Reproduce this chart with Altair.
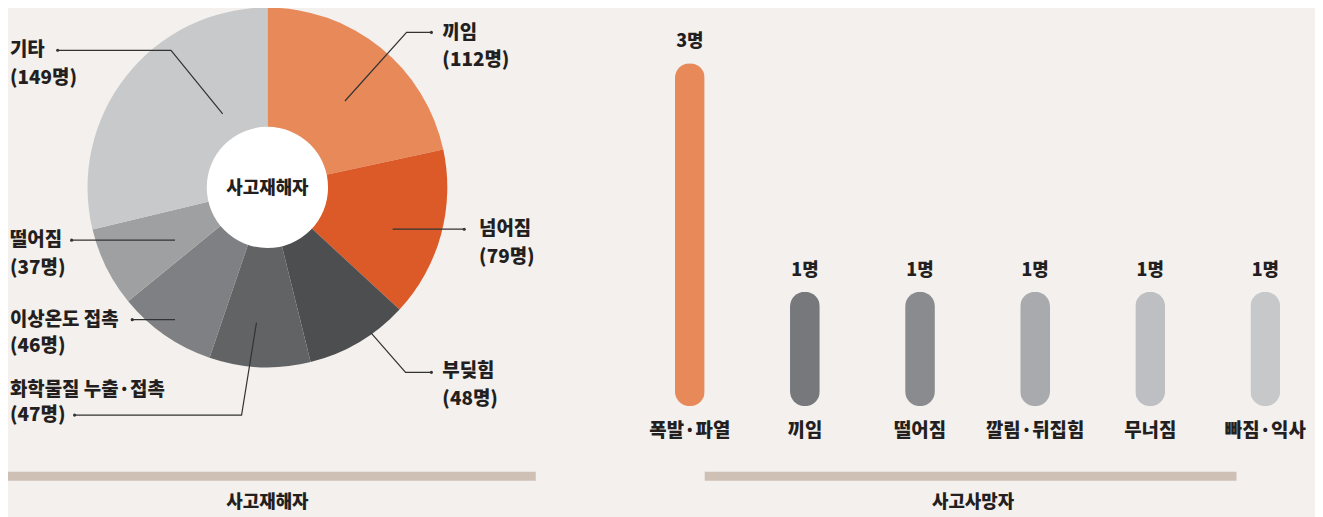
import altair as alt
import pandas as pd

# ---------------- data ----------------
pie_cats = ["끼임", "넘어짐", "부딪힘", "화학물질 누출·접촉", "이상온도 접촉", "떨어짐", "기타"]
pie_values = [112, 79, 48, 47, 46, 37, 149]
pie_colors = ["#E8895A", "#DC5A28", "#4D4E50", "#626365", "#7F8083", "#9FA0A2", "#C8C9CA"]

bar_cats = ["폭발·파열", "끼임", "떨어짐", "깔림·뒤집힘", "무너짐", "빠짐·익사"]
bar_values = [3, 1, 1, 1, 1, 1]
bar_colors = ["#E8895A", "#77787C", "#8A8B8F", "#A9AAAD", "#BEBFC2", "#C7C8CA"]

left_title = "사고재해자"
right_title = "사고사망자"
center_text = "사고재해자"

# ---------------- layout (annotation positions, px) ----------------
FONT = "Noto Sans CJK KR"
WEIGHT = 900
INK = "#231F20"
BG = "#F3F0ED"
BEIGE = "#CFC0B6"
CX, CY, R_OUT, R_IN = 261, 179, 181, 61

label_pos = {
    "끼임": (437, 24, 51),
    "넘어짐": (474, 221, 249),
    "부딪힘": (437, 364, 392),
    "화학물질 누출·접촉": (2, 383, 408),
    "이상온도 접촉": (2, 312, 339),
    "떨어짐": (2, 232, 260),
    "기타": (2, 41, 69),
}
leader_pts = {
    "끼임": [(426, 23), (401, 23), (339, 92)],
    "넘어짐": [(459, 221), (387, 221)],
    "부딪힘": [(426, 365), (400, 365), (365, 325)],
    "화학물질 누출·접촉": [(67, 408), (235, 408), (250, 315)],
    "이상온도 접촉": [(125, 312), (168, 312)],
    "떨어짐": [(64, 232), (168, 232)],
    "기타": [(50, 41), (164, 41), (216, 105)],
}

# ---------------- tables ----------------
pie_df = pd.DataFrame({"cat": pie_cats, "v": pie_values, "idx": list(range(len(pie_cats)))})

lab_rows = []
for c, v in zip(pie_cats, pie_values):
    x, y1, y2 = label_pos[c]
    lab_rows.append({"x": x, "y": y1, "t": c})
    lab_rows.append({"x": x, "y": y2, "t": f"({v}명)"})
lab_df = pd.DataFrame(lab_rows)

line_rows, dot_rows = [], []
for c in pie_cats:
    pts = leader_pts[c]
    for i, (x, y) in enumerate(pts):
        line_rows.append({"g": c, "o": i, "x": x, "y": y})
    dot_rows.append({"x": pts[0][0], "y": pts[0][1]})
line_df = pd.DataFrame(line_rows)
dot_df = pd.DataFrame(dot_rows)

bar_df = pd.DataFrame({"cat": bar_cats, "v": bar_values,
                       "lbl": [f"{v}명" for v in bar_values]})

band_df = pd.DataFrame({"x": [0, 701], "x2": [531, 1236], "y": [465, 465], "y2": [474, 474]})
title_df = pd.DataFrame({"x": [261, 971], "y": [497, 497], "t": [left_title, right_title]})

px = lambda f: alt.X(f, scale=None)
py = lambda f: alt.Y(f, scale=None)

# ---------------- left: donut ----------------
pie = alt.Chart(pie_df).mark_arc(outerRadius=R_OUT, innerRadius=0).encode(
    theta=alt.Theta("v:Q", stack=True),
    order=alt.Order("idx:Q"),
    color=alt.Color("cat:N", scale=alt.Scale(domain=pie_cats, range=pie_colors), legend=None),
    x=alt.value(CX), y=alt.value(CY),
)
hole = alt.Chart(pd.DataFrame({"a": [0]})).mark_arc(
    radius=R_IN, theta=0, theta2=6.2832, color="white"
).encode(x=alt.value(CX), y=alt.value(CY))
ctext = alt.Chart(pd.DataFrame({"t": [center_text]})).mark_text(
    font=FONT, fontWeight=WEIGHT, fontSize=18, color=INK, baseline="middle", align="center"
).encode(text="t:N", x=alt.value(CX), y=alt.value(CY + 2))

leaders = alt.Chart(line_df).mark_line(color="#333333", strokeWidth=1.2).encode(
    x=px("x:Q"), y=py("y:Q"), detail="g:N", order="o:Q"
)
dots = alt.Chart(dot_df).mark_circle(color="#333333", size=10, opacity=1).encode(
    x=px("x:Q"), y=py("y:Q")
)
labels = alt.Chart(lab_df).mark_text(
    font=FONT, fontWeight=WEIGHT, fontSize=19, color=INK, align="left", baseline="middle"
).encode(x=px("x:Q"), y=py("y:Q"), text="t:N")

# ---------------- right: rounded bars ----------------
xs = alt.X("cat:N", sort=bar_cats, axis=None,
           scale=alt.Scale(type="point", domain=bar_cats, range=[686, 1265], padding=0))
ys = alt.Y("v:Q", axis=None, scale=alt.Scale(domain=[0, 3], range=[399, 54]))

bars = alt.Chart(bar_df).mark_bar(width=30, cornerRadius=15).encode(
    x=xs, y=ys,
    color=alt.Color("cat:N", scale=alt.Scale(domain=bar_cats, range=bar_colors), legend=None),
)
vals = alt.Chart(bar_df).mark_text(
    font=FONT, fontWeight=WEIGHT, fontSize=18, color=INK, baseline="middle", dy=-21
).encode(x=xs, y=ys, text="lbl:N")
cats = alt.Chart(bar_df).mark_text(
    font=FONT, fontWeight=WEIGHT, fontSize=19, color=INK, baseline="middle"
).encode(x=xs, y=alt.value(424), text="cat:N")

# ---------------- shared: bands and titles ----------------
bands = alt.Chart(band_df).mark_rect(color=BEIGE).encode(
    x=px("x:Q"), x2="x2:Q", y=py("y:Q"), y2="y2:Q"
)
titles = alt.Chart(title_df).mark_text(
    font=FONT, fontWeight=WEIGHT, fontSize=18, color=INK, baseline="middle"
).encode(x=px("x:Q"), y=py("y:Q"), text="t:N")

chart = alt.layer(
    pie, hole, ctext, leaders, dots, labels, bars, vals, cats, bands, titles
).resolve_scale(
    x="independent", y="independent", color="independent", theta="independent"
).properties(
    width=1315, height=509, padding=0,
    autosize=alt.AutoSizeParams(type="none"),
).configure(background=BG).configure_view(stroke=None)

chart.save("out.html", embed_options={"renderer": "svg", "actions": False})
